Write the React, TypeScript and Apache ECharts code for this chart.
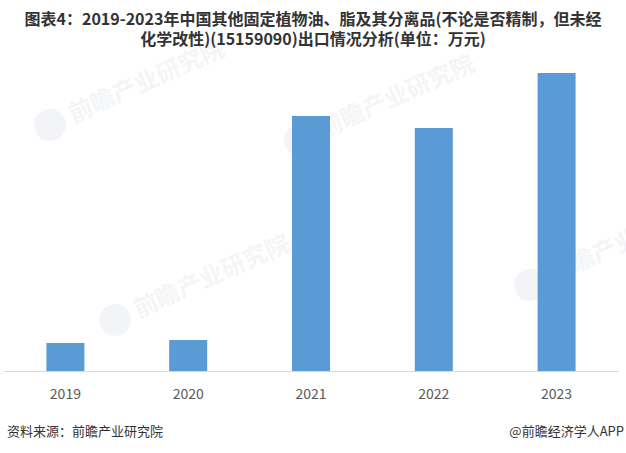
import React, { useEffect, useRef } from "react";
import * as echarts from "echarts";

const titleLines = [
  "图表4：2019-2023年中国其他固定植物油、脂及其分离品(不论是否精制，但未经",
  "化学改性)(15159090)出口情况分析(单位：万元)",
];
const categories = ["2019", "2020", "2021", "2022", "2023"];
const exportValues = [2800, 3100, 25500, 24300, 29800];
const sourceText = "资料来源：前瞻产业研究院";
const brandText = "@前瞻经济学人APP";
const watermarkText = "前瞻产业研究院";

export default function App() {
  const ref = useRef<HTMLDivElement>(null);
  useEffect(() => {
    if (!ref.current) return;
    const chart = echarts.init(ref.current, undefined, { renderer: "svg" });
    const font = "'Noto Sans CJK SC', 'Microsoft YaHei', sans-serif";
    const wmSpots = [
      [50, 125],
      [300, 140],
      [115, 320],
      [530, 285],
    ];
    const watermarks = wmSpots.map(([x, y]) => ({
      type: "group",
      x,
      y,
      rotation: 0.42,
      silent: true,
      z: -10,
      children: [
        {
          type: "circle",
          shape: { cx: 0, cy: 0, r: 16 },
          style: { fill: "rgba(215,220,228,0.3)" },
        },
        {
          type: "text",
          x: 22,
          y: -15,
          style: {
            text: watermarkText,
            fill: "rgba(215,220,228,0.3)",
            fontSize: 24,
            fontWeight: "bold",
            fontFamily: font,
          },
        },
      ],
    }));
    const titleStyle = {
      fill: "#333333",
      fontSize: 16,
      lineHeight: 18,
      fontWeight: "bold",
      fontFamily: font,
      textAlign: "center",
    };
    chart.setOption({
      animation: false,
      backgroundColor: "#ffffff",
      grid: { left: 4, right: 8, top: 71, bottom: 82, containLabel: false },
      xAxis: {
        type: "category",
        data: categories,
        axisLine: { show: true, lineStyle: { color: "#d9d9d9", width: 1 } },
        axisTick: { show: false },
        axisLabel: {
          color: "#595959",
          fontSize: 14,
          fontFamily: font,
          margin: 15,
        },
      },
      yAxis: {
        type: "value",
        min: 0,
        max: 30000,
        show: false,
        splitLine: { show: false },
      },
      series: [
        {
          type: "bar",
          data: exportValues,
          barWidth: 38,
          itemStyle: { color: "#5b9bd5" },
        },
      ],
      graphic: [
        ...watermarks,
        { type: "text", x: 313, y: 9, style: { ...titleStyle, text: titleLines[0] } },
        { type: "text", x: 313, y: 29, style: { ...titleStyle, text: titleLines[1] } },
        {
          type: "text",
          left: 7,
          top: 424,
          style: { text: sourceText, fill: "#333333", fontSize: 13, fontFamily: font },
        },
        {
          type: "text",
          right: 2,
          top: 424,
          style: { text: brandText, fill: "#333333", fontSize: 13, fontFamily: font },
        },
      ],
    });
    return () => chart.dispose();
  }, []);
  return <div ref={ref} style={{ width: 626, height: 453, position: "absolute", left: 0, top: 0 }} />;
}
